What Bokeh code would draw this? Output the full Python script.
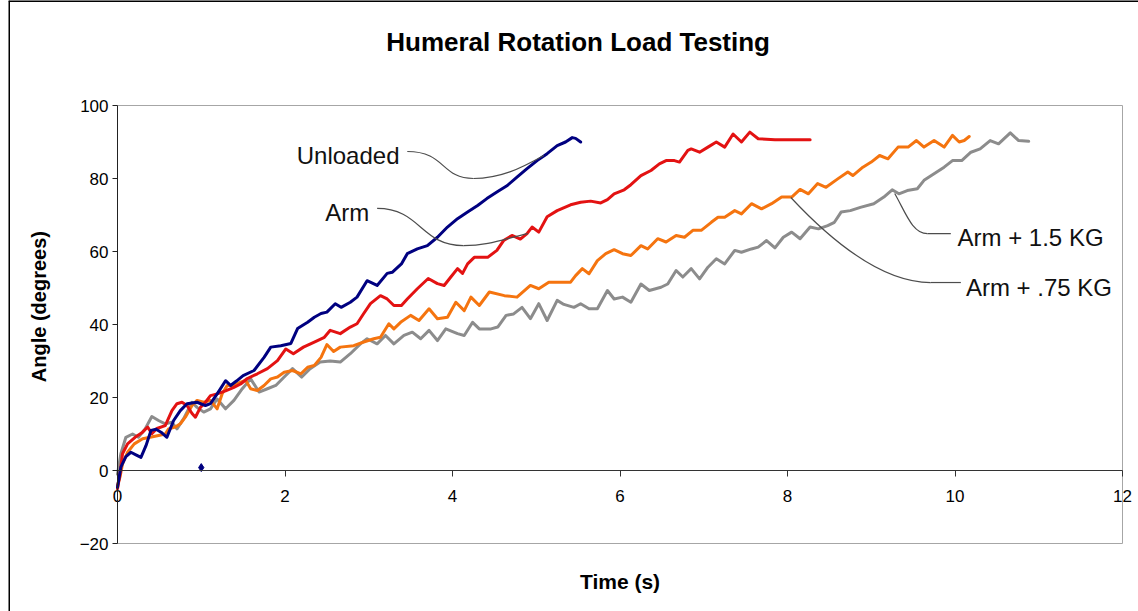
import math
from bokeh.plotting import figure
from bokeh.models import Range1d, FixedTicker, Label
from bokeh.core.properties import value
from bokeh.embed import file_html
from bokeh.resources import INLINE

FONT = "Liberation Sans"

# ---- measured joint angle (degrees) against time (s) ----
t_unloaded = [0.00, 0.04, 0.10, 0.16, 0.22, 0.28, 0.34, 0.40, 0.46, 0.52,
              0.59, 0.67, 0.75, 0.83, 0.95, 1.05, 1.11, 1.19, 1.29, 1.35,
              1.42, 1.50, 1.63, 1.75, 1.83, 1.95, 2.07, 2.15, 2.27, 2.35,
              2.43, 2.50, 2.60, 2.67, 2.78, 2.86, 2.98, 3.10, 3.22, 3.28,
              3.39, 3.46, 3.58, 3.70, 3.82, 3.94, 4.06, 4.18, 4.30, 4.41,
              4.53, 4.65, 4.77, 4.89, 5.01, 5.13, 5.25, 5.35, 5.43, 5.47,
              5.53]
a_unloaded = [-4.6, 0.9, 3.8, 5.0, 4.3, 3.6, 6.8, 11.0, 11.3, 10.5,
              9.1, 13.7, 16.4, 18.3, 18.7, 17.8, 18.3, 21.0, 24.6, 23.3,
              24.5, 26.0, 27.4, 31.0, 33.8, 34.2, 34.8, 38.9, 40.6, 42.0,
              43.0, 43.4, 45.7, 44.7, 46.1, 47.5, 52.0, 50.7, 54.0, 54.3,
              56.6, 59.4, 60.7, 61.6, 63.9, 66.7, 69.0, 70.8, 72.6, 74.5,
              76.3, 78.0, 80.4, 82.7, 84.9, 86.8, 89.0, 90.0, 91.2, 91.0,
              90.0]

t_arm = [0.00, 0.03, 0.06, 0.12, 0.21, 0.30, 0.36, 0.41, 0.47, 0.57,
         0.65, 0.71, 0.77, 0.83, 0.89, 0.93, 0.99, 1.05, 1.11, 1.19,
         1.29, 1.39, 1.47, 1.55, 1.67, 1.79, 1.91, 2.01, 2.10, 2.22,
         2.35, 2.47, 2.54, 2.66, 2.78, 2.86, 2.94, 3.02, 3.14, 3.22,
         3.30, 3.39, 3.46, 3.58, 3.71, 3.82, 3.90, 3.98, 4.06, 4.12,
         4.18, 4.26, 4.34, 4.42, 4.53, 4.61, 4.71, 4.81, 4.89, 4.95,
         5.03, 5.13, 5.25, 5.41, 5.53, 5.65, 5.77, 5.85, 5.93, 6.05,
         6.13, 6.25, 6.37, 6.47, 6.55, 6.65, 6.71, 6.81, 6.85, 6.95,
         7.05, 7.15, 7.25, 7.35, 7.45, 7.55, 7.65, 7.85, 8.27]
a_arm = [-5.0, -1.0, 4.6, 7.3, 9.1, 10.5, 11.9, 10.1, 11.5, 12.3,
         16.4, 18.3, 18.7, 17.8, 15.6, 14.6, 17.3, 18.7, 20.5, 21.0,
         21.8, 22.8, 23.7, 25.2, 26.5, 27.9, 30.1, 33.3, 32.0, 33.8,
         35.2, 36.5, 38.4, 37.5, 39.3, 40.2, 43.0, 45.7, 47.9, 47.0,
         45.2, 45.2, 47.0, 49.8, 52.6, 51.2, 50.7, 53.0, 55.3, 54.0,
         56.6, 58.4, 58.4, 58.4, 60.3, 63.0, 64.4, 63.4, 64.9, 66.7,
         65.3, 69.5, 71.2, 72.8, 73.5, 73.8, 73.3, 74.2, 75.8, 76.9,
         78.3, 80.8, 82.2, 84.0, 84.9, 84.9, 84.5, 87.7, 88.1, 87.2,
         88.6, 90.0, 88.6, 92.2, 90.0, 92.7, 90.9, 90.6, 90.6]

t_arm_075 = [0.00, 0.03, 0.06, 0.12, 0.20, 0.30, 0.39, 0.49, 0.57, 0.61,
             0.69, 0.75, 0.81, 0.89, 0.95, 1.03, 1.11, 1.19, 1.25, 1.31,
             1.39, 1.47, 1.53, 1.59, 1.67, 1.75, 1.83, 1.91, 1.99, 2.09,
             2.19, 2.27, 2.35, 2.43, 2.50, 2.58, 2.66, 2.82, 2.94, 3.06,
             3.14, 3.24, 3.30, 3.38, 3.50, 3.60, 3.72, 3.82, 3.94, 4.04,
             4.14, 4.22, 4.32, 4.44, 4.62, 4.77, 4.93, 5.03, 5.15, 5.29,
             5.41, 5.47, 5.55, 5.63, 5.73, 5.83, 5.93, 6.03, 6.13, 6.25,
             6.33, 6.45, 6.55, 6.67, 6.77, 6.87, 6.97, 7.09, 7.17, 7.25,
             7.37, 7.45, 7.57, 7.69, 7.81, 7.93, 8.05, 8.15, 8.25, 8.36,
             8.46, 8.60, 8.72, 8.78, 8.90, 9.00, 9.10, 9.20, 9.32, 9.44,
             9.54, 9.63, 9.75, 9.87, 9.97, 10.05, 10.11, 10.17]
a_arm_075 = [-4.0, -1.8, 1.8, 5.0, 7.3, 8.7, 9.1, 9.6, 10.0, 11.4,
             11.9, 12.8, 14.6, 17.8, 19.2, 18.7, 19.2, 16.9, 21.0, 23.3,
             23.3, 24.2, 24.7, 22.4, 21.9, 23.3, 25.1, 25.6, 26.9, 27.4,
             26.5, 28.3, 28.8, 31.0, 34.5, 32.6, 33.8, 34.2, 35.2, 36.1,
             36.5, 40.2, 38.8, 40.6, 42.5, 41.1, 44.3, 41.6, 42.0, 46.1,
             43.8, 47.5, 45.2, 48.9, 47.9, 47.5, 50.7, 49.8, 51.6, 51.6,
             51.6, 53.4, 55.3, 53.9, 57.5, 59.4, 60.5, 59.4, 58.9, 61.6,
             60.7, 63.5, 62.6, 64.4, 63.9, 65.8, 65.8, 68.0, 69.4, 69.4,
             71.2, 70.3, 73.1, 71.7, 73.1, 74.9, 74.9, 77.0, 75.8, 78.6,
             77.6, 79.9, 81.8, 80.8, 83.1, 84.5, 86.3, 85.4, 88.6, 88.6,
             90.4, 88.6, 90.4, 88.6, 91.8, 90.0, 90.4, 91.5]

t_arm_15 = [0.00, 0.04, 0.10, 0.18, 0.25, 0.33, 0.41, 0.49, 0.57, 0.65,
            0.71, 0.79, 0.89, 0.95, 1.03, 1.11, 1.19, 1.29, 1.39, 1.49,
            1.59, 1.69, 1.79, 1.89, 1.99, 2.09, 2.20, 2.30, 2.42, 2.54,
            2.66, 2.78, 2.90, 2.98, 3.10, 3.20, 3.30, 3.42, 3.52, 3.62,
            3.72, 3.82, 3.92, 4.06, 4.14, 4.24, 4.32, 4.46, 4.54, 4.64,
            4.73, 4.83, 4.93, 5.03, 5.13, 5.25, 5.33, 5.45, 5.53, 5.63,
            5.73, 5.85, 5.93, 6.03, 6.13, 6.25, 6.35, 6.49, 6.57, 6.67,
            6.75, 6.85, 6.95, 7.05, 7.15, 7.25, 7.37, 7.45, 7.57, 7.65,
            7.75, 7.85, 7.95, 8.05, 8.15, 8.27, 8.37, 8.48, 8.56, 8.64,
            8.75, 8.87, 9.03, 9.15, 9.25, 9.33, 9.43, 9.55, 9.63, 9.75,
            9.87, 9.97, 10.08, 10.19, 10.30, 10.42, 10.52, 10.66, 10.76, 10.88]
a_arm_15 = [-1.0, 4.6, 9.1, 10.0, 9.1, 11.4, 14.8, 13.7, 12.8, 13.2,
            11.4, 14.2, 18.7, 17.3, 16.0, 16.9, 19.6, 16.9, 19.2, 22.4,
            25.1, 21.5, 22.4, 23.3, 25.6, 27.9, 25.6, 27.9, 29.7, 30.0,
            29.7, 32.0, 34.7, 36.1, 34.7, 37.0, 34.7, 37.0, 37.9, 36.1,
            38.4, 35.6, 38.8, 37.5, 37.0, 40.6, 38.8, 38.8, 39.3, 42.5,
            42.9, 44.7, 41.6, 45.7, 41.1, 46.6, 45.5, 44.7, 45.7, 44.3,
            44.3, 49.3, 47.0, 47.5, 46.1, 51.1, 49.3, 50.2, 51.1, 54.8,
            53.0, 55.3, 52.5, 55.7, 58.0, 56.6, 60.3, 59.8, 60.7, 61.2,
            63.0, 61.0, 63.9, 65.3, 63.5, 66.7, 66.2, 67.1, 68.0, 70.8,
            71.2, 72.1, 73.1, 74.9, 76.9, 75.8, 76.7, 77.2, 79.5, 81.3,
            83.1, 84.9, 84.9, 87.2, 88.1, 90.4, 89.5, 92.5, 90.4, 90.2]

# lone sample recorded at t = 1 s in the unloaded run
t_stray = [1.0]
a_stray = [0.8]

series_names = ["Unloaded", "Arm", "Arm + 1.5 KG", "Arm + .75 KG"]
x_ticks = [0, 2, 4, 6, 8, 10, 12]
y_ticks = [-20, 0, 20, 40, 60, 80, 100]

NAVY, RED, ORANGE, GREY = "#000080", "#e31212", "#f5740f", "#8c8c8c"
LEADER = "#4d4d4d"

# ---- page geometry: the frame fills the whole canvas so that the titles,
# tick labels and callouts can all live inside it ----
W, H, LEFT_GAP = 1130, 611, 8
ORIGIN_X, ORIGIN_Y = 117 - LEFT_GAP, 470      # canvas pixel of (0 s, 0 deg)
PX_PER_S, PX_PER_DEG = 83.75, 3.65

x_lo = -ORIGIN_X / PX_PER_S
x_hi = (W - ORIGIN_X) / PX_PER_S
y_hi = ORIGIN_Y / PX_PER_DEG
y_lo = -(H - ORIGIN_Y) / PX_PER_DEG

p = figure(width=W, height=H, output_backend="svg", toolbar_location=None,
           title=None, x_range=Range1d(x_lo, x_hi), y_range=Range1d(y_lo, y_hi),
           min_border=0, margin=(0, 0, 0, LEFT_GAP),
           background_fill_color="white", border_fill_color="white")
p.outline_line_color = None
p.xgrid.visible = False
p.ygrid.visible = False

# chart-area edge along the top and the left of the canvas
p.segment(x0=[x_lo, x_lo], y0=[y_lo, y_hi], x1=[x_lo, x_hi], y1=[y_hi, y_hi],
          line_color="#000000", line_width=3)

# x axis crosses at angle 0
xa = p.xaxis[0]
xa.fixed_location = 0
xa.bounds = (x_ticks[0], x_ticks[-1])
xa.ticker = FixedTicker(ticks=x_ticks)
xa.axis_line_color = "#333333"
xa.major_tick_line_color = "#333333"
xa.major_tick_out = 6
xa.major_tick_in = 0
xa.minor_tick_line_color = None
xa.major_label_standoff = 13
xa.major_label_text_font = FONT
xa.major_label_text_font_size = "17px"
xa.major_label_text_color = "#000000"

ya = p.yaxis[0]
ya.fixed_location = 0
ya.bounds = (y_ticks[0], y_ticks[-1])
ya.ticker = FixedTicker(ticks=y_ticks)
ya.axis_line_color = "#222222"
ya.major_tick_line_color = "#222222"
ya.major_tick_out = 5
ya.major_tick_in = 0
ya.minor_tick_line_color = None
ya.major_label_standoff = 4
ya.major_label_text_font = FONT
ya.major_label_text_font_size = "17px"
ya.major_label_text_color = "#000000"

# plot-area border (top, right, bottom)
p.segment(x0=[x_ticks[0], x_ticks[-1], x_ticks[0]],
          y0=[y_ticks[-1], y_ticks[0], y_ticks[0]],
          x1=[x_ticks[-1], x_ticks[-1], x_ticks[-1]],
          y1=[y_ticks[-1], y_ticks[-1], y_ticks[0]],
          line_color="#a6a6a6", line_width=1)

# data curves
for tt, aa, col in [(t_arm_15, a_arm_15, GREY), (t_arm_075, a_arm_075, ORANGE),
                    (t_arm, a_arm, RED), (t_unloaded, a_unloaded, NAVY)]:
    p.line(tt, aa, line_color=col, line_width=3, line_join="round", line_cap="round")
p.scatter(t_stray, a_stray, marker="diamond", size=8, color=NAVY)

# callout leaders: cubic curves (start, end, two control points)
bez_x0 = [3.46, 4.25, 3.10, 4.13, 9.28, 8.04]
bez_y0 = [87.4, 80.0, 71.8, 61.6, 75.9, 74.8]
bez_x1 = [4.25, 5.09, 4.13, 4.90, 9.67, 9.71]
bez_y1 = [80.0, 86.3, 61.6, 64.9, 64.9, 51.5]
bez_cx0 = [3.92, 4.57, 3.62, 4.45, 9.41, 8.67]
bez_cy0 = [87.4, 80.0, 71.8, 61.6, 70.7, 59.3]
bez_cx1 = [3.86, 4.81, 3.62, 4.63, 9.49, 9.23]
bez_cy1 = [80.0, 82.7, 61.6, 63.6, 64.9, 51.5]
p.bezier(x0=bez_x0, y0=bez_y0, x1=bez_x1, y1=bez_y1,
         cx0=bez_cx0, cy0=bez_cy0, cx1=bez_cx1, cy1=bez_cy1,
         line_color=LEADER, line_width=1.2)
seg_x0 = [9.67, 9.71]
seg_x1 = [9.95, 10.07]
seg_y = [64.9, 51.5]
p.segment(x0=seg_x0, y0=seg_y, x1=seg_x1, y1=seg_y, line_color=LEADER, line_width=1.2)

# callout texts
lab_x = [2.14, 2.48, 10.03, 10.13]
lab_y = [86.3, 70.7, 63.8, 50.1]
p.text(x=lab_x, y=lab_y, text=series_names, text_font=value(FONT),
       text_font_size="24px", text_align="left", text_baseline="middle",
       text_color="#111111")

# chart title and axis titles
p.add_layout(Label(x=5.50, y=117.3, text="Humeral Rotation Load Testing",
                   text_font=FONT, text_font_size="26px", text_font_style="bold",
                   text_align="center", text_baseline="middle", text_color="#000000"))
p.add_layout(Label(x=6.0, y=-30.4, text="Time (s)",
                   text_font=FONT, text_font_size="21px", text_font_style="bold",
                   text_align="center", text_baseline="middle", text_color="#000000"))
p.add_layout(Label(x=-0.943, y=44.9, text="Angle (degrees)", angle=math.pi / 2,
                   text_font=FONT, text_font_size="20px", text_font_style="bold",
                   text_align="center", text_baseline="middle", text_color="#000000"))

open("out.html", "w").write(file_html(p, INLINE))
